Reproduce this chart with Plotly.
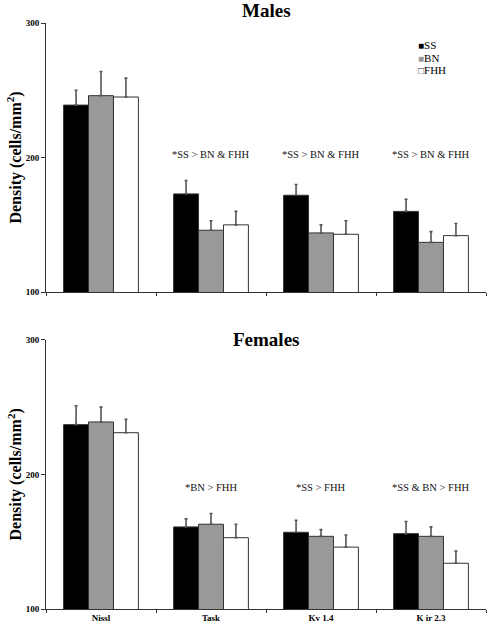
import plotly.graph_objects as go
from plotly.subplots import make_subplots

categories = ["Nissl", "Task", "Kv 1.4", "K ir 2.3"]
series_names = ["SS", "BN", "FHH"]
series_colors = ["#000000", "#999999", "#ffffff"]
legend_glyphs = ["■", "■", "□"]

males_ss = [239, 173, 172, 160]
males_bn = [246, 146, 144, 137]
males_fhh = [245, 150, 143, 142]
males_ss_err = [11, 10, 8, 9]
males_bn_err = [18, 7, 6, 8]
males_fhh_err = [14, 10, 10, 9]

females_ss = [237, 161, 157, 156]
females_bn = [239, 163, 154, 154]
females_fhh = [231, 153, 146, 134]
females_ss_err = [14, 6, 9, 9]
females_bn_err = [11, 8, 5, 7]
females_fhh_err = [10, 10, 9, 9]

males_notes = ["", "*SS > BN & FHH", "*SS > BN & FHH", "*SS > BN & FHH"]
females_notes = ["", "*BN > FHH", "*SS > FHH", "*SS & BN > FHH"]
note_y_males = 202
note_y_females = 190

panel_titles = ["Males", "Females"]
y_ticks = [100, 200, 300]
y_title = "Density (cells/mm<sup>2</sup>)"

FONT = "Liberation Serif, Times New Roman, serif"

W, H = 488, 626
plot_left, plot_right = 46, 486
plot_top, plot_bot = 23, 608.7
plot_h = plot_bot - plot_top
m_lo = (plot_bot - 292) / plot_h
f_hi = (plot_bot - 339.7) / plot_h

fig = make_subplots(rows=2, cols=1, vertical_spacing=m_lo - f_hi)

panels = [
    ([males_ss, males_bn, males_fhh], [males_ss_err, males_bn_err, males_fhh_err]),
    ([females_ss, females_bn, females_fhh], [females_ss_err, females_bn_err, females_fhh_err]),
]

for r, (vals, errs) in enumerate(panels, start=1):
    for i, name in enumerate(series_names):
        fig.add_trace(go.Bar(
            x=categories, y=vals[i], name=name,
            marker=dict(color=series_colors[i], line=dict(color="#333333", width=1)),
            error_y=dict(type="data", symmetric=False, array=errs[i],
                         arrayminus=[0] * len(errs[i]),
                         color="#555555", thickness=1.6, width=1.5),
            showlegend=False,
        ), row=r, col=1)

for r in (1, 2):
    fig.update_yaxes(range=[100, 300], tickvals=y_ticks,
                     ticktext=["<b>%d</b>" % t for t in y_ticks],
                     ticks="outside", ticklen=4,
                     tickwidth=1, tickcolor="#333", showline=True, linecolor="#333",
                     linewidth=1, showgrid=False, zeroline=False, automargin=False,
                     tickfont=dict(family=FONT, size=9, color="#000"),
                     row=r, col=1)
    fig.update_xaxes(type="category", showline=True, linecolor="#333", linewidth=1,
                     ticks="outside", tickson="boundaries", ticklen=3, tickcolor="#333",
                     showgrid=False, automargin=False,
                     tickfont=dict(family=FONT, size=9, color="#000"),
                     row=r, col=1)

fig.update_xaxes(showticklabels=False, row=1, col=1)
fig.update_xaxes(ticktext=["<b>" + c + "</b>" for c in categories],
                 tickvals=categories, row=2, col=1)

annotations = []
note_font = dict(family=FONT, size=10.5, color="#111")
for note, c in zip(males_notes, categories):
    if note:
        annotations.append(dict(x=c, y=note_y_males, xref="x", yref="y", text=note,
                                showarrow=False, font=note_font))
for note, c in zip(females_notes, categories):
    if note:
        annotations.append(dict(x=c, y=note_y_females, xref="x2", yref="y2", text=note,
                                showarrow=False, font=note_font))
title_font = dict(family=FONT, size=19, color="#000")
annotations.append(dict(x=0.5, y=1, xref="x domain", yref="y domain", yanchor="middle",
                        yshift=13, text="<b>" + panel_titles[0] + "</b>", showarrow=False,
                        font=title_font))
annotations.append(dict(x=0.5, y=1, xref="x2 domain", yref="y2 domain", yanchor="middle",
                        yshift=0, text="<b>" + panel_titles[1] + "</b>", showarrow=False,
                        font=title_font))
# y-axis titles
ytitle_font = dict(family=FONT, size=16, color="#000")
for yr in ("y domain", "y2 domain"):
    annotations.append(dict(x=0, y=0.5, xref="paper", yref=yr, xanchor="center",
                            yanchor="middle", xshift=-31, textangle=-90,
                            text="<b>" + y_title + "</b>", showarrow=False,
                            font=ytitle_font))
# legend
for i, name in enumerate(series_names):
    glyph_color = series_colors[i] if series_colors[i] != "#ffffff" else "#333333"
    annotations.append(dict(x=(417 - plot_left) / (plot_right - plot_left), y=1,
                            xref="paper", yref="y domain",
                            xanchor="left", yanchor="middle", yshift=-22 - 12.6 * i,
                            text='<span style="color:%s;font-size:10px">%s</span>%s'
                                 % (glyph_color, legend_glyphs[i], name),
                            showarrow=False, borderpad=0,
                            font=dict(family=FONT, size=11, color="#000")))

fig.update_layout(
    width=W, height=H,
    margin=dict(l=plot_left, r=W - plot_right, t=plot_top, b=H - plot_bot, autoexpand=False),
    paper_bgcolor="white", plot_bgcolor="white",
    barmode="group", bargap=0.32, bargroupgap=0,
    annotations=annotations,
    showlegend=False,
    font=dict(family=FONT),
)

fig.write_html("out.html", config={"displayModeBar": False},
               post_script="document.body.style.margin='0';document.body.style.padding='0';")
